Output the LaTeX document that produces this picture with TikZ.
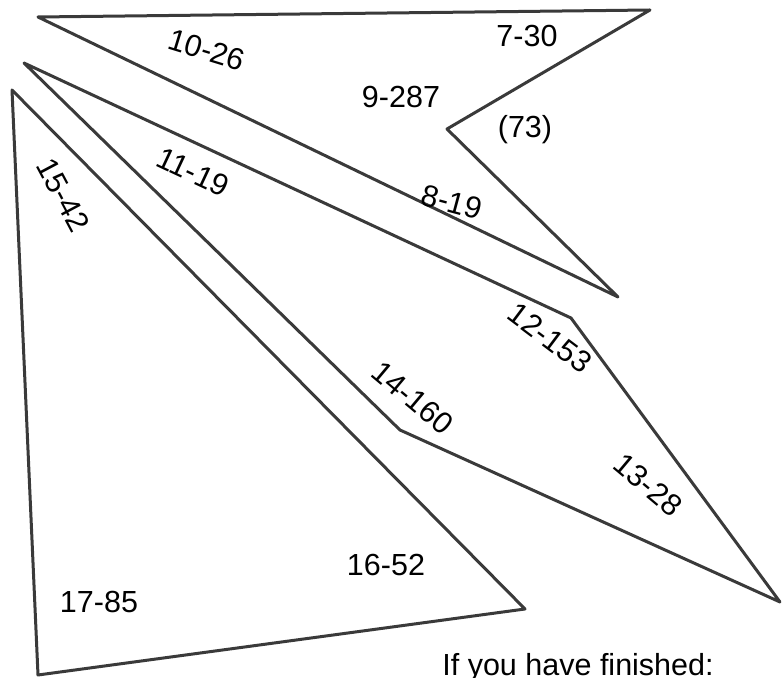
\documentclass[tikz,border=0pt]{standalone}
\usepackage{fontspec}
\setmainfont{Liberation Sans}
\usepackage{tikz}
\definecolor{outline}{HTML}{3A3A3A}

\begin{document}
\begin{tikzpicture}[
  x=0.5pt,y=-0.5pt,
  every node/.style={font=\fontsize{15.25}{18}\selectfont,inner sep=0pt},
  piece/.style={draw=outline,line width=1.5pt,line join=round}
]
\useasboundingbox (0,0) rectangle (782,678);
% corners of the three pieces
\coordinate (u1) at (38,17);  \coordinate (u2) at (650,10);
\coordinate (u3) at (447,129); \coordinate (u4) at (618,297);
\coordinate (m1) at (24,63);  \coordinate (m2) at (571,318);
\coordinate (m3) at (780,602); \coordinate (m4) at (400,430);
\coordinate (l1) at (12,90);  \coordinate (l2) at (525,609);
\coordinate (l3) at (38,675);
\draw[piece] (u1) -- (u2) -- (u3) -- (u4) -- cycle;
\draw[piece] (m1) -- (m2) -- (m3) -- (m4) -- cycle;
\draw[piece] (l1) -- (l2) -- (l3) -- cycle;
% labels
\node[rotate=-17] (tenlbl) at (207,50) {10-26};
\node (sevenlbl) at (527,36) {7-30};
\node (ninelbl) at (401,97) {9-287};
\node (gaplbl) at (525,130) {(73)};
\node[rotate=-15] (eightlbl) at (452,202) {8-19};
\node[rotate=-25] (elevenlbl) at (193,172) {11-19};
\node[rotate=-62] (fifteenlbl) at (63,195) {15-42};
\node[rotate=-37] (twelvelbl) at (550,338) {12-153};
\node[rotate=-40] (fourteenlbl) at (413,398) {14-160};
\node[rotate=-40] (thirteenlbl) at (648,485) {13-28};
\node (sixteenlbl) at (386,565) {16-52};
\node (seventeenlbl) at (99,602) {17-85};
\node[anchor=base] (finished) at (578,675) {If you have finished:};
\end{tikzpicture}
\end{document}
